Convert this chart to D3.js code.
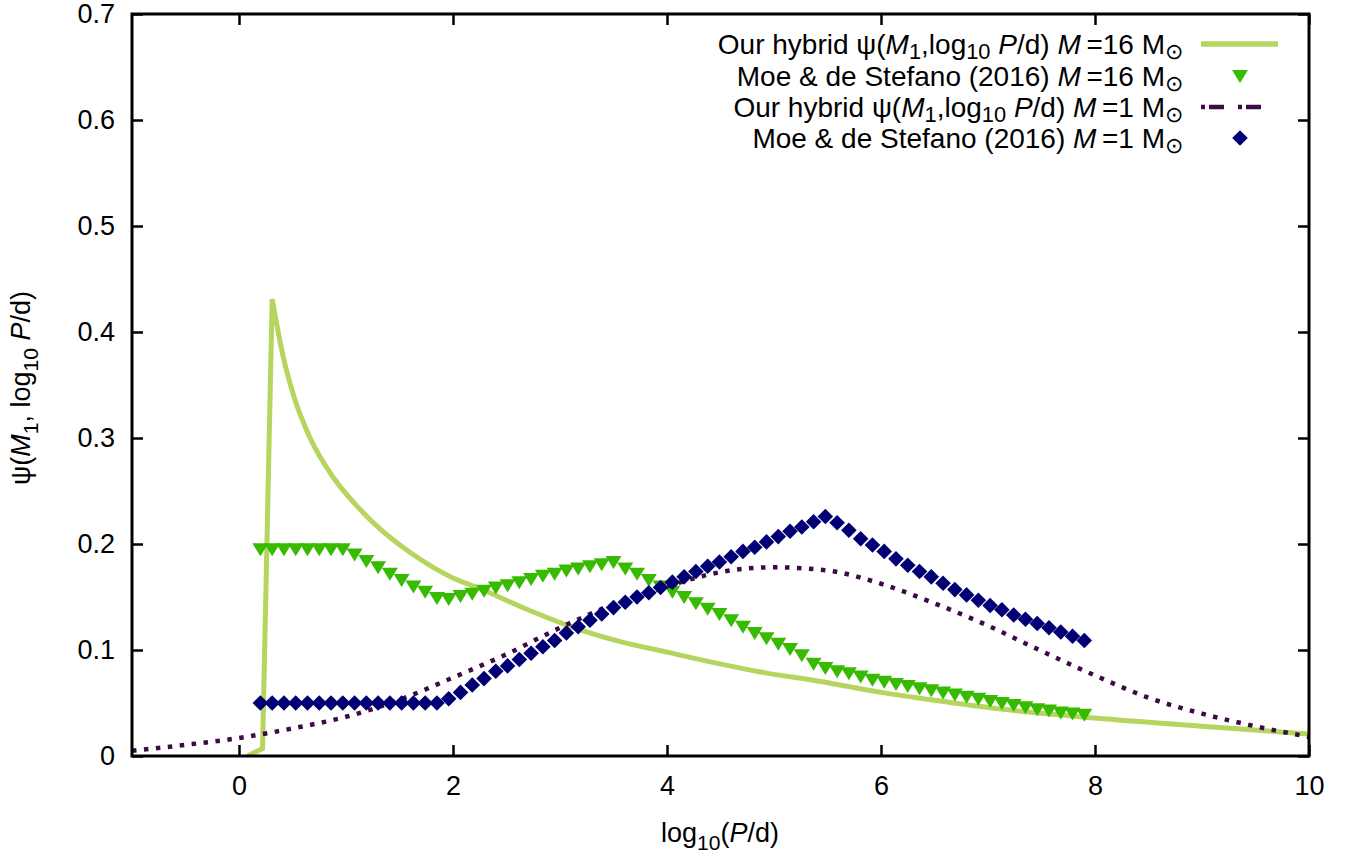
<!DOCTYPE html>
<html>
<head>
<meta charset="utf-8">
<script src="https://cdn.jsdelivr.net/npm/d3@7"></script>
<style>
  body { margin: 0; background: #fff; }
  text { font-family: "Liberation Sans", Arial, Helvetica, sans-serif; fill: #000; }
</style>
</head>
<body>
<svg id="chart" width="1358" height="860"></svg>
<script>
// log10(P/d) grid of the tabulated Moe & di Stefano distributions
const logPGrid = [0.2,0.31,0.42,0.53,0.64,0.75,0.86,0.97,1.08,1.19,1.3,1.41,1.52,1.63,1.74,1.85,1.96,2.07,2.18,2.29,
  2.4,2.51,2.62,2.73,2.84,2.95,3.06,3.17,3.28,3.39,3.5,3.61,3.72,3.83,3.94,4.05,4.16,4.27,4.38,4.49,
  4.6,4.71,4.82,4.93,5.04,5.15,5.26,5.37,5.48,5.59,5.7,5.81,5.92,6.03,6.14,6.25,6.36,6.47,6.58,6.69,
  6.8,6.91,7.02,7.13,7.24,7.35,7.46,7.57,7.68,7.79,7.9];

// Moe & de Stefano (2016), M = 16 Msun
const moe16 = [0.195,0.195,0.195,0.195,0.195,0.195,0.195,0.195,0.190,0.184,0.178,0.172,0.166,0.160,0.155,0.149,0.148,
  0.151,0.153,0.156,0.159,0.161,0.164,0.167,0.170,0.172,0.175,0.177,0.179,0.181,0.183,
  0.177,0.172,0.166,0.160,0.155,0.150,0.144,0.139,0.134,0.128,0.122,0.116,0.111,0.106,0.101,0.095,0.087,0.083,
  0.080,0.078,0.075,0.072,0.070,0.068,0.066,0.064,0.062,0.060,0.058,0.056,0.054,0.052,0.050,0.048,0.046,0.044,
  0.043,0.041,0.040,0.039];

// Moe & de Stefano (2016), M = 1 Msun
const moe1 = [0.050,0.050,0.050,0.050,0.050,0.050,0.050,0.050,0.050,0.050,0.050,0.050,0.050,0.050,0.050,0.050,
  0.054,0.060,0.067,0.073,0.080,0.085,0.091,0.097,0.103,0.109,0.116,0.122,0.128,0.134,0.140,0.145,0.150,0.154,
  0.159,0.164,0.169,0.174,0.179,0.183,0.188,0.193,0.197,0.202,0.207,0.212,0.216,0.221,0.226,
  0.220,0.213,0.205,0.199,0.193,0.186,0.180,0.174,0.169,0.163,0.157,0.152,0.147,0.142,0.138,0.133,0.129,0.125,
  0.121,0.117,0.113,0.109];

// Hybrid distribution, M = 16 Msun (sharp onset, then smooth decline)
const hybrid16X = [0.08,0.22,0.31,0.41,0.52,0.66,0.88,1.1,1.32,1.6,2.0,2.25,2.7,3.19,3.6,4.0,4.4,5.0,5.34,6.0,6.5,7.1,8.0,9.0,10.0];
const hybrid16Y = [0,0.007,0.431,0.378,0.337,0.301,0.263,0.236,0.214,0.192,0.168,0.158,0.138,0.119,0.107,0.098,0.089,0.077,0.072,0.060,0.0525,0.0445,0.0358,0.028,0.0208];

// Hybrid distribution, M = 1 Msun
const hybrid1X = [-1,-0.5,0,0.5,1,1.5,2,2.5,3,3.5,4,4.5,5,5.5,6,6.5,7,7.5,8,8.5,9,9.5,10];
const hybrid1Y = [0.005,0.0105,0.017,0.026,0.037,0.053,0.074,0.096,0.121,0.143,0.160,0.1735,0.178,0.175,0.1625,0.144,0.123,0.099,0.076,0.055,0.040,0.028,0.018];

const xTicks = [0, 2, 4, 6, 8, 10];
const yTicks = [0, 0.1, 0.2, 0.3, 0.4, 0.5, 0.6, 0.7];
const yTickLabels = ["0", "0.1", "0.2", "0.3", "0.4", "0.5", "0.6", "0.7"];

const colors = {
  hybrid16: "#b5d55f",
  moe16: "#36bb00",
  hybrid1: "#3c0a45",
  moe1: "#000074"
};

const svg = d3.select("#chart");
const box = { left: 132, right: 1309, top: 14, bottom: 756 };
const FS = 28;

const x = d3.scaleLinear().domain([-1, 10]).range([box.left, box.right]);
const y = d3.scaleLinear().domain([0, 0.7]).range([box.bottom, box.top]);

svg.append("defs").append("clipPath").attr("id", "plotclip")
  .append("rect").attr("x", box.left).attr("y", box.top)
  .attr("width", box.right - box.left).attr("height", box.bottom - box.top);

// axes with inward ticks, mirrored on top and right
function styleAxis(g) {
  g.select(".domain").remove();
  g.selectAll(".tick line").attr("stroke", "#000").attr("stroke-width", 2.5);
  g.selectAll(".tick text").attr("font-size", FS - 1).attr("font-family", null).attr("fill", "#000");
}
svg.append("g").attr("transform", `translate(0,${box.bottom})`)
  .call(d3.axisBottom(x).tickValues(xTicks).tickSizeInner(-11).tickSizeOuter(0).tickPadding(20).tickFormat(d3.format("d")))
  .call(styleAxis);
svg.append("g").attr("transform", `translate(0,${box.top})`)
  .call(d3.axisTop(x).tickValues(xTicks).tickSizeInner(-11).tickSizeOuter(0).tickFormat(""))
  .call(styleAxis);
svg.append("g").attr("transform", `translate(${box.left},0)`)
  .call(d3.axisLeft(y).tickValues(yTicks).tickSizeInner(-11).tickSizeOuter(0).tickPadding(17)
    .tickFormat((d, i) => yTickLabels[i]))
  .call(styleAxis);
svg.append("g").attr("transform", `translate(${box.right},0)`)
  .call(d3.axisRight(y).tickValues(yTicks).tickSizeInner(-11).tickSizeOuter(0).tickFormat(""))
  .call(styleAxis);

const plot = svg.append("g").attr("clip-path", "url(#plotclip)");

const linearGen = d3.line().x(d => x(d[0])).y(d => y(d[1]));
const smoothGen = d3.line().x(d => x(d[0])).y(d => y(d[1])).curve(d3.curveMonotoneX);

// hybrid, 16 Msun: straight rise to the peak, smooth decline after it
const h16 = hybrid16X.map((v, i) => [v, hybrid16Y[i]]);
const peakIdx = d3.maxIndex(h16, d => d[1]);
plot.append("path")
  .attr("d", linearGen(h16.slice(0, peakIdx + 1)) + smoothGen(h16.slice(peakIdx)).replace(/^M[^LC]*/, ""))
  .attr("fill", "none").attr("stroke", colors.hybrid16).attr("stroke-width", 5)
  .attr("stroke-linejoin", "miter");

// Moe & de Stefano, 16 Msun: downward triangles
const triPath = "M-8,-6L8,-6L0,7Z";
plot.append("g").selectAll("path")
  .data(logPGrid.map((v, i) => [v, moe16[i]]))
  .join("path")
  .attr("d", triPath)
  .attr("transform", d => `translate(${x(d[0])},${y(d[1])})`)
  .attr("fill", colors.moe16);

// hybrid, 1 Msun
plot.append("path")
  .datum(hybrid1X.map((v, i) => [v, hybrid1Y[i]]))
  .attr("d", smoothGen)
  .attr("fill", "none").attr("stroke", colors.hybrid1).attr("stroke-width", 4.5)
  .attr("stroke-dasharray", "4.5,7.5");

// Moe & de Stefano, 1 Msun: diamonds
const diaPath = "M0,-7.8L7.8,0L0,7.8L-7.8,0Z";
plot.append("g").selectAll("path")
  .data(logPGrid.map((v, i) => [v, moe1[i]]))
  .join("path")
  .attr("d", diaPath)
  .attr("transform", d => `translate(${x(d[0])},${y(d[1])})`)
  .attr("fill", colors.moe1);

// frame
svg.append("rect")
  .attr("x", box.left).attr("y", box.top)
  .attr("width", box.right - box.left).attr("height", box.bottom - box.top)
  .attr("fill", "none").attr("stroke", "#000").attr("stroke-width", 3);

// rich text helper: parts = [text, style] with style "i" italic, "sub" subscript
function richText(sel, parts, size, drop) {
  let shift = 0;
  parts.forEach(([t, st]) => {
    const ts = sel.append("tspan").text(t);
    const wantSub = st && st.includes("sub");
    const target = wantSub ? size * drop : 0;
    if (target !== shift) { ts.attr("dy", target - shift); shift = target; }
    if (wantSub) ts.attr("font-size", size * 0.78);
    if (st && st.includes("i")) ts.attr("font-style", "italic");
  });
}

// legend
const legendRows = [
  { parts: [["Our hybrid ψ("], ["M", "i"], ["1", "sub"], [",log"], ["10", "sub"], [" "], ["P", "i"], ["/d) "], ["M", "i"], ["\u2009=16 M"], ["⊙", "sub"]], kind: "line16" },
  { parts: [["Moe & de Stefano (2016) "], ["M", "i"], ["\u2009=16 M"], ["⊙", "sub"]], kind: "tri" },
  { parts: [["Our hybrid ψ("], ["M", "i"], ["1", "sub"], [",log"], ["10", "sub"], [" "], ["P", "i"], ["/d) "], ["M", "i"], ["\u2009=1 M"], ["⊙", "sub"]], kind: "line1" },
  { parts: [["Moe & de Stefano (2016) "], ["M", "i"], ["\u2009=1 M"], ["⊙", "sub"]], kind: "dia" }
];
const legendY = [44, 76, 107, 138];
const legend = svg.append("g");
legendRows.forEach((row, i) => {
  const ly = legendY[i];
  const t = legend.append("text").attr("x", 1183).attr("y", ly + FS * 0.34)
    .attr("text-anchor", "end").attr("font-size", FS);
  richText(t, row.parts, FS, 0.2);
  if (row.kind === "line16") {
    legend.append("line").attr("x1", 1201).attr("x2", 1278).attr("y1", ly).attr("y2", ly)
      .attr("stroke", colors.hybrid16).attr("stroke-width", 5.5);
  } else if (row.kind === "line1") {
    legend.append("line").attr("x1", 1201).attr("x2", 1267).attr("y1", ly).attr("y2", ly)
      .attr("stroke", colors.hybrid1).attr("stroke-width", 4.5).attr("stroke-dasharray", "4,4,15,14");
  } else if (row.kind === "tri") {
    legend.append("path").attr("d", triPath).attr("transform", `translate(1240,${ly})`).attr("fill", colors.moe16);
  } else {
    legend.append("path").attr("d", diaPath).attr("transform", `translate(1240,${ly})`).attr("fill", colors.moe1);
  }
});

// axis titles
const xt = svg.append("text").attr("x", 720).attr("y", 842).attr("text-anchor", "middle").attr("font-size", FS - 1);
richText(xt, [["log"], ["10", "sub"], ["("], ["P", "i"], ["/d)"]], FS - 1, 0.3);

const yt = svg.append("text").attr("transform", "translate(30,388) rotate(-90)")
  .attr("text-anchor", "middle").attr("font-size", FS - 1);
richText(yt, [["ψ("], ["M", "i"], ["1", "sub"], [", log"], ["10", "sub"], [" "], ["P", "i"], ["/d)"]], FS - 1, 0.3);
</script>
</body>
</html>
